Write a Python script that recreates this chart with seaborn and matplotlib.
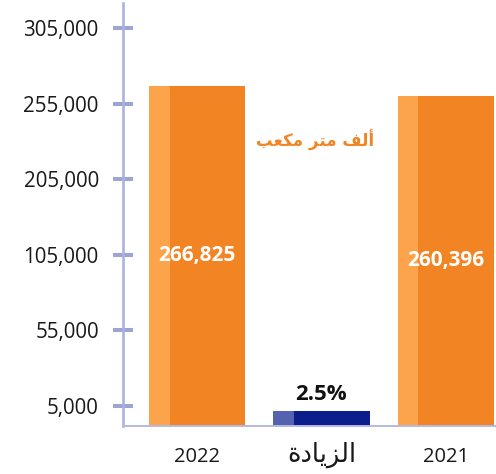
import numpy as np
import pandas as pd
import seaborn as sns
import matplotlib
matplotlib.use('Agg')
import matplotlib.pyplot as plt
from matplotlib.patches import Rectangle

sns.set_style('white')
plt.rcParams['font.family'] = ['Open Sans', 'DejaVu Sans']

# data
# labels: "2022", "الزيادة" (increase), "2021" -- arabic written in presentation forms, visual order
categories = ['2022', '\uFE93\uFEA9\uFE8E\uFEF3\uFEB0\uFEDF\uFE8D', '2021']
values = [266825, 3750, 260396]
value_labels = ['266,825', '2.5%', '260,396']
# "ألف متر مكعب" (thousand cubic metres)
unit_label = '\uFE90\uFECC\uFEDC\uFEE3 \uFEAE\uFE98\uFEE3 \uFED2\uFEDF\uFE83'

# y axis labels are evenly spaced although the values are not
ytick_vals = [5000, 55000, 105000, 205000, 255000, 305000]
ytick_text = ['5,000', '55,000', '105,000', '205,000', '255,000', '305,000']

dark = ['#F28424', '#0B1E8C', '#F28424']
light = ['#FCA44C', '#5562AF', '#FCA44C']

# piecewise scale so that the ticks sit evenly
scale_v = [0] + ytick_vals + [355000]
scale_p = [0, 0.265, 1.265, 2.265, 3.265, 4.265, 5.265, 6.265]

def fwd(v):
    return np.interp(v, scale_v, scale_p)

def inv(p):
    return np.interp(p, scale_p, scale_v)

df = pd.DataFrame({'cat': categories, 'val': values})

fig = plt.figure(figsize=(4.96, 4.74), dpi=100)
ax = fig.add_axes([122.7 / 496, 1 - 426 / 474, 1 - 122.7 / 496, 423 / 474])

sns.barplot(data=df, x='cat', y='val', hue='cat', palette=dark, legend=False,
            width=0.773, saturation=1, linewidth=0, ax=ax)
ax.set_yscale('function', functions=(fwd, inv))

# lighter strip on the left of each bar
for p, c in zip(ax.patches, light):
    ax.add_patch(Rectangle((p.get_x(), 0), p.get_width() * 0.215, p.get_height(),
                           facecolor=c, lw=0, zorder=p.get_zorder() + 0.1))

ax.set_xlim(-0.597, 2.403)
ax.set_ylim(0, inv(5.6))
ax.set_yticks(ytick_vals)
ax.set_yticklabels(ytick_text)
ax.yaxis.set_minor_locator(matplotlib.ticker.NullLocator())
ax.set_xlabel('')
ax.set_ylabel('')

for s in ['top', 'right']:
    ax.spines[s].set_visible(False)
ax.spines['left'].set_color('#ADB2DA')
ax.spines['left'].set_linewidth(1.9)
ax.spines['bottom'].set_color('#B6BAE0')
ax.spines['bottom'].set_linewidth(1.4)

ax.tick_params(axis='y', left=True, direction='inout', length=14.4, width=2.9, color='#9EA4D4',
               pad=10, labelsize=14.8, labelcolor='#1A1818')
ax.tick_params(axis='x', bottom=False, length=0, pad=15, labelsize=14.5, labelcolor='#1A1818')
for t in ax.get_xticklabels():
    if t.get_text() == categories[1]:
        t.set_fontfamily('DejaVu Sans')
        t.set_fontsize(18.5)
        t.set_y(0.012)

# value labels
for i, (v, lab) in enumerate(zip(values, value_labels)):
    if i == 1:
        ax.annotate(lab, (i, v), xytext=(0, 4), textcoords='offset points',
                    ha='center', va='bottom', fontsize=16, fontweight='bold', color='#111111')
    else:
        ax.text(i, inv(fwd(v) / 2), lab, ha='center', va='center',
                fontsize=15, fontweight='bold', color='white')

ax.text(0.515, 0.674, unit_label, transform=ax.transAxes, ha='center', va='center',
        fontsize=12, fontweight='bold', color='#F28424', family='DejaVu Sans')

fig.savefig('out.png', dpi=100)
